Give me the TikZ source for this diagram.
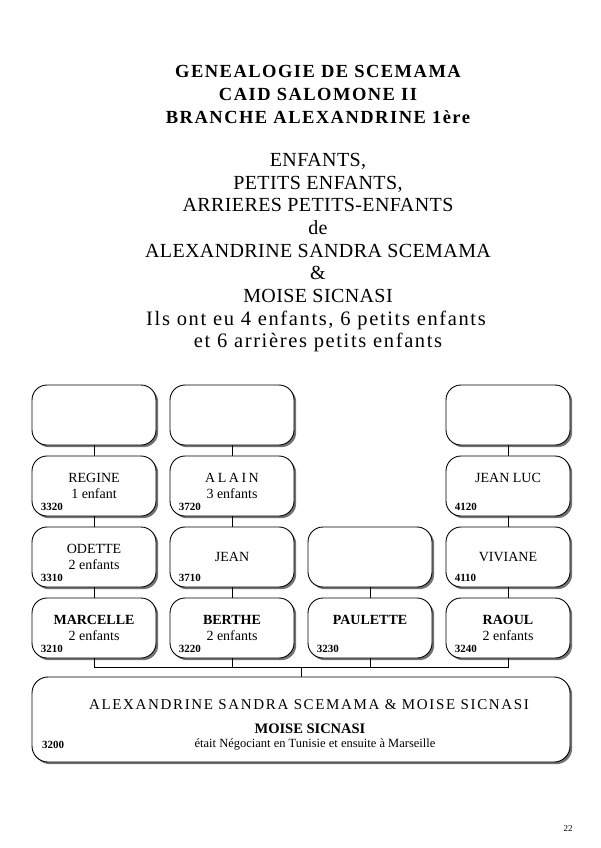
\documentclass[tikz,border=0pt]{standalone}
\usepackage{fontspec}
\setmainfont{Liberation Serif}
\newfontfamily\titlefont[LetterSpace=8]{Liberation Serif}
\newfontfamily\headfont[LetterSpace=2]{Liberation Serif}
\newfontfamily\widefont[LetterSpace=8]{Liberation Serif}
\newfontfamily\barfont[LetterSpace=11]{Liberation Serif}
\newfontfamily\gapfont[LetterSpace=18]{Liberation Serif}
\usetikzlibrary{shadows}

\begin{document}
\begin{tikzpicture}[x=1pt,y=-1pt,
  ttl/.style={anchor=base, inner sep=0pt, font=\titlefont\fontsize{18.5}{18.5}\selectfont\bfseries},
  hd/.style={anchor=base, inner sep=0pt, font=\headfont\fontsize{20}{20}\selectfont},
  wd/.style={anchor=base, inner sep=0pt, font=\widefont\fontsize{20.5}{20.5}\selectfont},
  box/.style={draw, line width=0.9pt, rounded corners=15pt, fill=white,
    minimum width=124pt, minimum height=60pt, inner sep=0pt, align=center,
    font=\fontsize{14}{15.5}\selectfont,
    drop shadow={shadow xshift=2.2pt, shadow yshift=-2.2pt, fill=black!55, opacity=1}},
  num/.style={anchor=base west, inner sep=0pt, font=\fontsize{11}{11}\selectfont\bfseries}]

\path[use as bounding box, fill=white] (0,0) rectangle (600,848);

\node[ttl] (t1) at (318,78) {GENEALOGIE DE SCEMAMA};
\node[ttl] (t2) at (318,101) {CAID SALOMONE II};
\node[ttl] (t3) at (318,124) {BRANCHE ALEXANDRINE 1ère};

\node[hd] (h1) at (318,166) {ENFANTS,};
\node[hd] (h2) at (318,189) {PETITS ENFANTS,};
\node[hd] (h3) at (318,211.5) {ARRIERES PETITS-ENFANTS};
\node[hd] (h4) at (318,234) {de};
\node[hd] (h5) at (318,257) {ALEXANDRINE SANDRA SCEMAMA};
\node[hd] (h6) at (318,279.5) {\&};
\node[hd] (h7) at (318,302) {MOISE SICNASI};
\node[wd] (h8) at (316,325) {Ils ont eu 4 enfants, 6 petits enfants};
\node[wd] (h9) at (318,347.5) {et 6 arrières petits enfants};

% top row
\node[box] (r1c1) at (94,415) {};
\node[box] (r1c2) at (232,415) {};
\node[box] (r1c4) at (508,415) {};

% second row
\node[box] (r2c1) at (94,486) {REGINE\\1 enfant};
\node[box] (r2c2) at (232,486) {{\gapfont ALAIN}\\3 enfants};
\node[box] (r2c4) at (508,486) {JEAN LUC\\\mbox{}};

% third row
\node[box] (r3c1) at (94,557) {ODETTE\\2 enfants};
\node[box] (r3c2) at (232,557) {JEAN};
\node[box] (r3c3) at (370,557) {};
\node[box] (r3c4) at (508,557) {VIVIANE};

% fourth row
\node[box] (r4c1) at (94,628) {\textbf{MARCELLE}\\2 enfants};
\node[box] (r4c2) at (232,628) {\textbf{BERTHE}\\2 enfants};
\node[box] (r4c3) at (370,628) {\textbf{PAULETTE}\\\mbox{}};
\node[box] (r4c4) at (508,628) {\textbf{RAOUL}\\2 enfants};

\node[num] (n3320) at ([xshift=9pt,yshift=6pt]r2c1.south west) {3320};
\node[num] (n3720) at ([xshift=9pt,yshift=6pt]r2c2.south west) {3720};
\node[num] (n4120) at ([xshift=9pt,yshift=6pt]r2c4.south west) {4120};
\node[num] (n3310) at ([xshift=9pt,yshift=6pt]r3c1.south west) {3310};
\node[num] (n3710) at ([xshift=9pt,yshift=6pt]r3c2.south west) {3710};
\node[num] (n4110) at ([xshift=9pt,yshift=6pt]r3c4.south west) {4110};
\node[num] (n3210) at ([xshift=9pt,yshift=6pt]r4c1.south west) {3210};
\node[num] (n3220) at ([xshift=9pt,yshift=6pt]r4c2.south west) {3220};
\node[num] (n3230) at ([xshift=9pt,yshift=6pt]r4c3.south west) {3230};
\node[num] (n3240) at ([xshift=9pt,yshift=6pt]r4c4.south west) {3240};

% parents
\node[box, rounded corners=16pt, minimum width=538pt, minimum height=85pt] (base) at (301,719.5) {};
\node[anchor=base, inner sep=0pt, font=\barfont\fontsize{15}{15}\selectfont] (p1) at (309,709) {ALEXANDRINE SANDRA SCEMAMA \& MOISE SICNASI};
\node[anchor=base, inner sep=0pt, font=\fontsize{14.5}{14.5}\selectfont\bfseries] (p2) at (310,733) {MOISE SICNASI};
\node[anchor=base, inner sep=0pt, font=\fontsize{12.5}{13}\selectfont] (p3) at (315,747) {était Négociant en Tunisie et ensuite à Marseille};
\node[num] (n3200) at (42,748) {3200};

% links
\draw (r1c1.south) -- (r2c1.north);
\draw (r2c1.south) -- (r3c1.north);
\draw (r3c1.south) -- (r4c1.north);
\draw (r1c2.south) -- (r2c2.north);
\draw (r2c2.south) -- (r3c2.north);
\draw (r3c2.south) -- (r4c2.north);
\draw (r3c3.south) -- (r4c3.north);
\draw (r1c4.south) -- (r2c4.north);
\draw (r2c4.south) -- (r3c4.north);
\draw (r3c4.south) -- (r4c4.north);

\coordinate (bus) at (301,667);
\draw (r4c1.south) -- (r4c1.south |- bus) -- (r4c4.south |- bus) -- (r4c4.south);
\draw (r4c2.south) -- (r4c2.south |- bus);
\draw (r4c3.south) -- (r4c3.south |- bus);
\draw (bus) -- (base.north);

\node[anchor=base, inner sep=0pt, font=\fontsize{9}{9}\selectfont] (pg) at (568,831) {22};

\end{tikzpicture}
\end{document}
